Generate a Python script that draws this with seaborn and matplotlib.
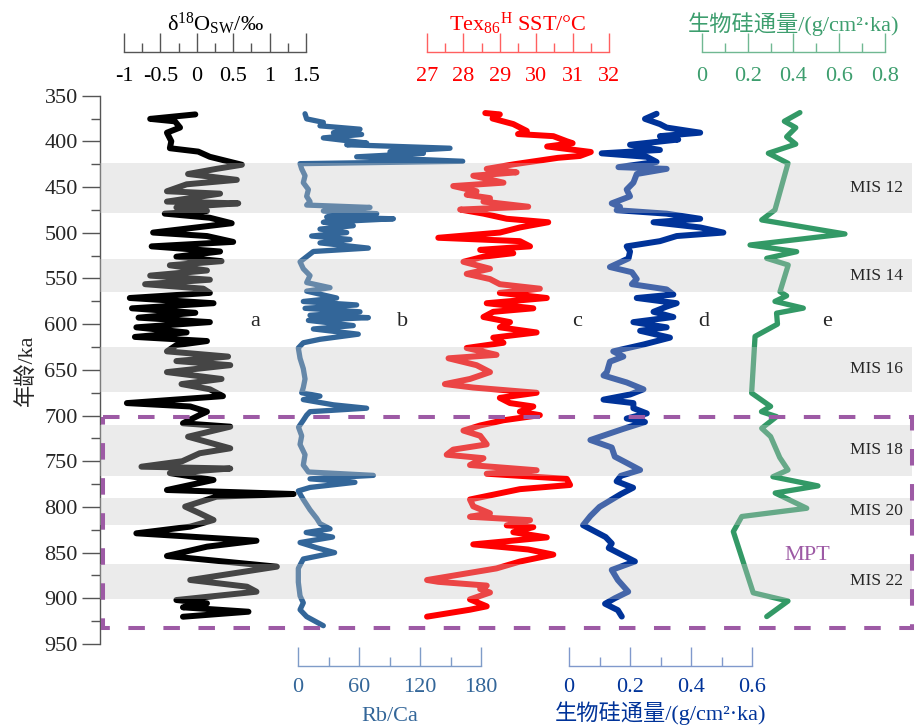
import numpy as np
import matplotlib.pyplot as plt
import matplotlib.patches as mpatches
import seaborn as sns

sns.set_style("ticks")
plt.rcParams["font.family"] = ["Liberation Serif", "Noto Sans CJK SC"]
plt.rcParams["mathtext.fontset"] = "custom"
plt.rcParams["mathtext.rm"] = "Liberation Serif"
plt.rcParams["mathtext.it"] = "Liberation Serif:italic"
plt.rcParams["axes.unicode_minus"] = False

# ---------------- data (age in ka) ----------------
# a: d18O seawater (permil)
a_age = [370.5, 375.4, 378.1, 384.9, 390.5, 399.9, 407.5, 411.2, 416.9, 425.6,
         430.1, 435.7, 442.1, 447.0, 454.6, 457.2, 465.9, 467.8, 472.3, 476.1,
         479.1, 483.6, 489.6, 499.8, 503.6, 510.0, 514.9, 520.5, 526.2, 531.1,
         535.6, 541.3, 546.9, 551.4, 556.3, 561.2, 565.8, 571.4, 577.1, 582.7,
         587.6, 592.9, 597.8, 603.5, 609.1, 614.0, 618.5, 623.0, 629.8, 635.5,
         640.4, 644.9, 652.5, 660.0, 665.6, 671.3, 678.8, 686.4, 690.1, 695.8,
         699.4, 708.5, 712.2, 723.2, 735.9, 741.3, 750.0, 756.0, 758.0, 763.0,
         770.5, 781.5, 785.9, 788.8, 799.7, 807.0, 814.3, 821.6, 828.9, 837.0,
         843.5, 853.7, 865.4, 880.0, 887.3, 892.8, 901.9, 905.5, 909.9, 914.7,
         920.2]
a_d18o = [-0.02, -0.64, -0.30, -0.23, -0.41, -0.35, -0.37, 0.02, 0.18, 0.62,
          0.27, -0.12, 0.55, -0.14, -0.41, 0.32, -0.41, 0.57, -0.28, 0.14,
          -0.44, 0.18, 0.48, -0.60, 0.14, 0.50, -0.62, 0.32, -0.28, 0.34,
          -0.37, 0.14, -0.64, 0.18, -0.71, 0.09, 0.18, -0.92, 0.23, -0.89,
          -0.02, -0.80, 0.18, -0.83, -0.14, -0.85, 0.14, -0.28, -0.41, 0.43,
          -0.28, 0.46, -0.41, 0.34, -0.21, 0.18, 0.36, -0.96, -0.09, 0.14,
          0.04, -0.19, 0.46, -0.12, 0.46, 0.04, -0.20, -0.76, 0.46, -0.37,
          0.23, -0.41, 1.33, 0.27, -0.16, 0.04, 0.23, -0.09, -0.83, 0.82,
          0.14, -0.41, 1.10, -0.09, 0.69, 0.82, -0.28, 0.14, -0.19, 0.71,
          -0.19]

# b: Rb/Ca
b_age = [369.8, 375.4, 379.2, 383.0, 386.7, 390.5, 392.4, 396.2, 401.8, 403.7,
         407.5, 411.2, 413.1, 416.9, 421.8, 424.4, 430.1, 437.6, 445.2, 452.7,
         460.2, 465.9, 469.7, 472.3, 476.1, 479.1, 482.8, 484.7, 488.5, 492.3,
         496.0, 499.8, 503.6, 507.3, 511.1, 516.8, 520.5, 526.2, 531.8, 539.4,
         546.9, 554.5, 560.1, 563.9, 571.4, 575.2, 579.0, 582.7, 586.5, 590.3,
         592.9, 595.9, 601.6, 605.3, 611.0, 616.6, 620.4, 626.1, 637.4, 648.7,
         660.0, 669.4, 675.1, 678.8, 682.6, 688.3, 692.0, 695.8, 699.6, 705.2,
         712.8, 722.2, 731.6, 742.9, 754.2, 761.8, 765.5, 769.3, 773.1, 778.7,
         782.5, 791.9, 803.2, 812.6, 818.3, 824.0, 828.0, 833.0, 839.0, 844.7,
         850.0, 857.0, 867.3, 882.4, 897.4, 905.0, 912.5, 920.1, 930.0]
b_rbca = [6.9, 8.5, 24.9, 21.6, 61.0, 34.8, 62.6, 24.9, 67.5, 47.9,
          149.5, 90.5, 123.3, 57.7, 162.0, 2.0, 3.6, 6.9, 5.2, 10.2,
          8.5, 11.8, 8.5, 70.8, 24.9, 77.4, 28.2, 93.8, 24.9, 54.4,
          21.6, 47.9, 13.4, 51.2, 21.6, 69.2, 15.1, 8.5, 2.0, 5.2,
          11.8, 8.5, 31.5, 8.5, 38.0, 5.2, 57.7, 6.9, 61.0, 11.8,
          69.2, 10.2, 54.4, 15.1, 59.3, 21.6, 5.2, 0.3, 2.0, 5.2,
          6.9, 5.2, 3.6, 21.6, 5.2, 34.8, 67.5, 11.8, 8.5, 5.2,
          0.5, 3.6, 2.0, 6.9, 5.2, 10.2, 74.1, 11.8, 56.0, 11.8,
          0.3, 5.2, 11.8, 18.4, 21.6, 31.5, 8.0, 34.0, 2.0, 18.4,
          36.0, 5.2, 0.3, 0.3, 2.0, 5.2, 2.0, 8.5, 24.9]

# c: TEX86H SST (degC)
c_age = [369.0, 370.5, 375.0, 381.1, 388.6, 392.0, 394.3, 399.9, 402.0, 405.6,
         411.6, 416.0, 418.0, 425.0, 430.1, 433.9, 437.6, 445.2, 448.9, 454.6,
         458.4, 462.1, 465.9, 471.5, 474.6, 479.1, 484.7, 488.5, 494.2, 499.8,
         505.5, 509.2, 514.9, 518.7, 522.4, 526.2, 531.8, 539.4, 545.0, 550.7,
         556.3, 561.2, 565.8, 571.4, 577.1, 582.7, 586.5, 592.2, 597.8, 603.5,
         609.1, 614.8, 620.4, 626.1, 633.6, 637.4, 644.9, 652.5, 660.0, 665.6,
         669.4, 675.1, 680.7, 686.4, 690.1, 695.8, 699.6, 705.2, 710.9, 716.5,
         722.2, 731.6, 737.3, 742.9, 746.7, 754.2, 759.9, 763.7, 769.3, 776.0,
         780.6, 791.9, 799.4, 807.0, 810.8, 814.5, 820.2, 822.1, 827.7, 833.4,
         841.0, 846.6, 852.2, 859.8, 867.3, 880.0, 882.0, 886.1, 889.9, 893.7,
         901.2, 908.8, 912.5, 920.1]
c_sst = [28.60, 29.00, 28.80, 29.37, 29.74, 29.50, 30.47, 30.84, 31.00, 30.30,
         31.50, 31.20, 30.60, 29.40, 28.64, 29.46, 28.27, 29.10, 27.72, 28.36,
         28.09, 28.73, 28.55, 29.78, 27.91, 28.55, 29.19, 30.33, 29.55, 29.00,
         27.31, 29.55, 29.83, 28.46, 29.37, 28.55, 28.00, 28.73, 28.09, 28.73,
         29.00, 30.10, 29.00, 30.29, 28.64, 29.92, 28.82, 28.55, 29.28, 29.00,
         30.01, 28.82, 29.10, 28.09, 28.91, 27.59, 28.36, 28.73, 28.18, 27.49,
         28.27, 30.01, 29.00, 29.28, 29.92, 29.55, 30.10, 29.10, 28.46, 28.00,
         28.46, 28.64, 27.72, 27.54, 28.55, 28.18, 30.01, 28.64, 30.84, 30.93,
         29.55, 28.18, 28.27, 28.73, 28.18, 29.83, 29.19, 29.92, 29.37, 30.29,
         28.27, 29.78, 30.47, 29.55, 28.91, 27.00, 27.31, 28.64, 28.46, 28.73,
         28.18, 28.64, 28.18, 27.00]

# d: biogenic silica flux, bottom axis (g/cm2 ka)
d_age = [369.8, 375.4, 381.1, 384.9, 390.5, 394.3, 398.0, 403.7, 409.4, 413.1,
         416.9, 422.5, 428.2, 430.1, 435.7, 445.2, 452.7, 460.2, 467.8, 471.5,
         475.3, 479.1, 484.7, 488.5, 494.2, 499.8, 503.6, 509.2, 514.9, 520.5,
         528.1, 537.5, 543.2, 550.7, 556.3, 562.0, 567.6, 571.4, 577.1, 580.8,
         586.5, 592.2, 597.8, 603.5, 607.3, 614.8, 622.3, 629.8, 635.5, 641.1,
         652.5, 656.2, 663.8, 671.3, 677.0, 682.6, 686.4, 692.0, 697.7, 703.3,
         707.1, 714.6, 726.8, 735.0, 745.0, 752.0, 759.6, 766.0, 772.0, 779.0,
         786.0, 800.0, 810.0, 820.0, 833.0, 840.0, 845.0, 859.7, 869.0, 880.0,
         892.8, 900.0, 906.0, 913.0, 920.0]
d_bsi = [0.287, 0.249, 0.298, 0.320, 0.430, 0.298, 0.358, 0.200, 0.298, 0.107,
         0.255, 0.287, 0.162, 0.320, 0.222, 0.211, 0.189, 0.200, 0.140, 0.167,
         0.156, 0.320, 0.430, 0.277, 0.430, 0.506, 0.353, 0.298, 0.189, 0.200,
         0.195, 0.134, 0.206, 0.222, 0.206, 0.320, 0.342, 0.222, 0.353, 0.320,
         0.277, 0.342, 0.211, 0.320, 0.233, 0.331, 0.244, 0.145, 0.178, 0.134,
         0.124, 0.113, 0.189, 0.244, 0.200, 0.113, 0.211, 0.211, 0.255, 0.189,
         0.249, 0.178, 0.070, 0.140, 0.150, 0.190, 0.233, 0.170, 0.156, 0.210,
         0.170, 0.100, 0.070, 0.046, 0.120, 0.140, 0.130, 0.216, 0.140, 0.160,
         0.194, 0.150, 0.118, 0.160, 0.173]

# e: biogenic silica flux, top axis (g/cm2 ka)
e_age = [368.5, 378.0, 385.0, 395.0, 403.0, 413.0, 424.0, 475.0, 486.0, 501.3,
         513.4, 520.7, 528.0, 535.3, 564.5, 569.0, 575.1, 582.5, 588.0, 600.0,
         613.4, 675.4, 690.0, 695.8, 701.2, 714.0, 723.0, 746.0, 759.6, 767.0,
         777.0, 784.8, 801.5, 810.5, 827.0, 894.0, 903.0, 920.0]
e_bsi = [0.428, 0.360, 0.410, 0.370, 0.410, 0.290, 0.376, 0.319, 0.261, 0.625,
         0.210, 0.414, 0.283, 0.377, 0.341, 0.370, 0.319, 0.443, 0.326, 0.330,
         0.232, 0.217, 0.300, 0.260, 0.326, 0.261, 0.300, 0.340, 0.376, 0.310,
         0.507, 0.320, 0.458, 0.174, 0.137, 0.224, 0.376, 0.283]

# glacial stages
mis_names = ["MIS 12", "MIS 14", "MIS 16", "MIS 18", "MIS 20", "MIS 22"]
mis_top = [424, 529, 625, 710, 790, 862]
mis_bottom = [478, 565, 674, 766, 820, 901]
mpt_top, mpt_bottom = 702, 933

age_ticks = list(range(350, 951, 50))
d18o_ticks = [-1, -0.5, 0, 0.5, 1, 1.5]
d18o_labels = ["-1", "-0.5", "0", "0.5", "1", "1.5"]
sst_ticks = [27, 28, 29, 30, 31, 32]
sst_labels = ["27", "28", "29", "30", "31", "32"]
bsi_top_ticks = [0, 0.2, 0.4, 0.6, 0.8]
bsi_top_labels = ["0", "0.2", "0.4", "0.6", "0.8"]
rbca_ticks = [0, 60, 120, 180]
rbca_labels = ["0", "60", "120", "180"]
bsi_bot_ticks = [0, 0.2, 0.4, 0.6]
bsi_bot_labels = ["0", "0.2", "0.4", "0.6"]

PURPLE = "#9d5aa5"

fig = plt.figure(figsize=(9.15, 7.27), dpi=100)

# main age axis
ax = fig.add_axes([0.1093, 0.1142, 0.8874, 0.7542])
ax.set_ylim(950, 350)
ax.set_yticks(age_ticks)
ax.set_yticks(np.arange(375, 950, 50), minor=True)
ax.tick_params(axis="y", which="major", length=13, width=1, color="#555555", labelsize=16, pad=3)
ax.tick_params(axis="y", which="minor", length=6.5, width=1, color="#555555")
for s in ["top", "right", "bottom"]:
    ax.spines[s].set_visible(False)
ax.spines["left"].set_color("#555555")
ax.spines["left"].set_linewidth(1)
ax.set_ylabel("年龄/ka", fontsize=16, labelpad=5)
ax.patch.set_alpha(0)


def scale_axis(rect, lim, major, labels, minor, color, line_color, title, top, tpad):
    sa = fig.add_axes(rect)
    sa.set_xlim(lim)
    sa.set_ylim(0, 1)
    sa.set_yticks([])
    for s in ["top", "left", "right"]:
        sa.spines[s].set_visible(False)
    sa.spines["bottom"].set_color(line_color)
    sa.spines["bottom"].set_linewidth(1)
    sa.set_xticks(major, labels=labels)
    sa.set_xticks(minor, minor=True)
    sa.tick_params(axis="x", which="major", direction="in", length=13.5, width=1,
                   color=line_color, labelcolor=color, labelsize=16,
                   pad=10.5 if top else 8.5)
    sa.tick_params(axis="x", which="minor", direction="in", length=6.5, width=1, color=line_color)
    sa.patch.set_visible(False)
    if top:
        sa.set_title(title, color=color, fontsize=16, pad=tpad)
    else:
        sa.set_xlabel(title, color=color, fontsize=16, labelpad=tpad)
    return sa


sc_a = scale_axis([0.1355, 0.9285, 0.1989, 0.0005], (-1, 1.5), d18o_ticks, d18o_labels,
                  [-0.75, -0.25, 0.25, 0.75, 1.25], "black", "#555555",
                  "δ$^{18}$O$_{\\mathrm{SW}}$/‰", True, 15)
sc_c = scale_axis([0.4667, 0.9285, 0.1989, 0.0005], (27, 32), sst_ticks, sst_labels,
                  [27.5, 28.5, 29.5, 30.5, 31.5], "#ff0000", "#ff6060",
                  "Tex$_{86}{}^{\\mathrm{H}}$ SST/°C", True, 15)
sc_e = scale_axis([0.7672, 0.9285, 0.2000, 0.0005], (0, 0.8), bsi_top_ticks, bsi_top_labels,
                  [0.1, 0.3, 0.5, 0.7], "#3d9e6e", "#70b892",
                  "生物硅通量/(g/cm²·ka)", True, 15)
sc_b = scale_axis([0.3257, 0.0839, 0.2000, 0.0005], (0, 180), rbca_ticks, rbca_labels,
                  [30, 90, 150], "#336699", "#7f9cc8", "Rb/Ca", False, 7)
sc_d = scale_axis([0.6219, 0.0839, 0.2000, 0.0005], (0, 0.6), bsi_bot_ticks, bsi_bot_labels,
                  [0.1, 0.3, 0.5], "#003399", "#8099cc", "生物硅通量/(g/cm²·ka)", False, 3)


def twin_limits(scale_ax, v0, v1):
    p = scale_ax.get_position()
    m = ax.get_position()
    k = (v1 - v0) / p.width
    return v0 + (m.x0 - p.x0) * k, v0 + (m.x1 - p.x0) * k


curves = [
    (a_d18o, a_age, sc_a, (-1, 1.5), "#000000", 4.3),
    (b_rbca, b_age, sc_b, (0, 180), "#336699", 3.8),
    (c_sst, c_age, sc_c, (27, 32), "#ff0000", 4.3),
    (d_bsi, d_age, sc_d, (0, 0.6), "#003399", 4.3),
    (e_bsi, e_age, sc_e, (0, 0.8), "#339966", 3.8),
]
for vals, ages, sc, (v0, v1), color, lw in curves:
    tw = ax.twiny()
    sns.lineplot(x=vals, y=ages, sort=False, estimator=None, ax=tw, color=color,
                 lw=lw, solid_capstyle="round", solid_joinstyle="round", legend=False)
    tw.set_xlim(twin_limits(sc, v0, v1))
    tw.axis("off")

# overlay: glacial bands, labels, MPT box
ov = ax.twiny()
ov.set_xlim(0, 1)
ov.axis("off")
for name, t, b in zip(mis_names, mis_top, mis_bottom):
    ov.axhspan(t, b, xmin=0, xmax=1, color="#c8c8c8", alpha=0.35, lw=0, zorder=5)
    ov.text(0.989, (t + b) / 2, name, ha="right", va="center", fontsize=12.5, zorder=6)

box = mpatches.Rectangle((0.004, mpt_top), 0.996, mpt_bottom - mpt_top, fill=False,
                         edgecolor=PURPLE, lw=2.9, linestyle=(0, (4.1, 4.6)),
                         clip_on=False, zorder=7)
ov.add_patch(box)
ov.text(0.871, 853, "MPT", color=PURPLE, fontsize=16, ha="center", va="center", zorder=7)

for letter, xf in zip(["a", "b", "c", "d", "e"], [0.191, 0.373, 0.587, 0.744, 0.895]):
    ov.text(xf, 597, letter, ha="center", va="center", fontsize=16, zorder=7)

# twiny re-enables bottom ticks on the parent; hide them again
ax.set_xticks([])
ax.tick_params(axis="x", which="both", bottom=False, top=False, labelbottom=False)
ax.set_ylim(950, 350)
ov.set_ylim(950, 350)

fig.savefig("out.png", dpi=100)
